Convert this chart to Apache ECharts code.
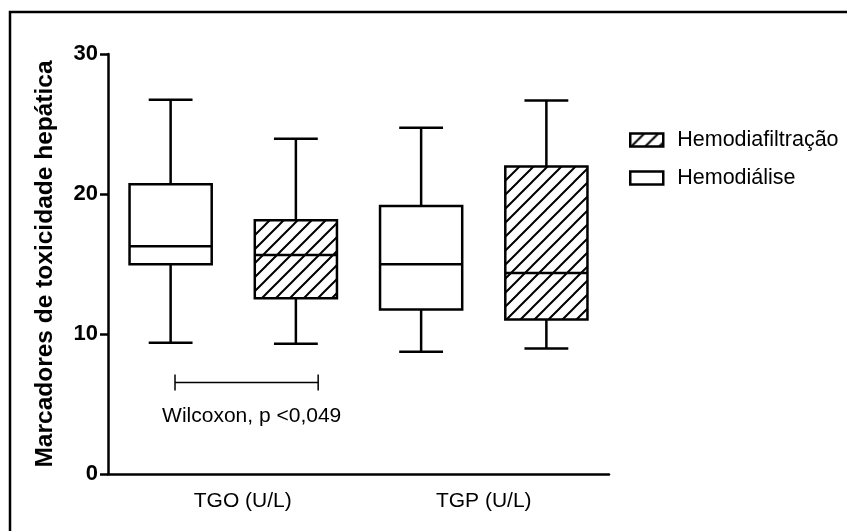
<!DOCTYPE html>
<html><head><meta charset="utf-8">
<script src="https://cdn.jsdelivr.net/npm/echarts@6/dist/echarts.min.js"></script>
<style>html,body{margin:0;padding:0;background:#fff}#c{width:847px;height:531px}</style>
</head><body><div id="c"></div>
<script>
const positions = ['TGO-HD', 'TGO-HDF', 'TGP-HD', 'TGP-HDF'];
const groupLabels = ['TGO (U/L)', 'TGP (U/L)'];
const yTicks = [0, 10, 20, 30];
// [position index, min, Q1, median, Q3, max]
const hemodialise = [[0, 9.37, 14.98, 16.27, 20.69, 26.73], [2, 8.73, 11.75, 14.98, 19.14, 24.73]];
const hemodiafiltracao = [[1, 9.30, 12.56, 15.65, 18.12, 23.95], [3, 8.97, 11.04, 14.36, 21.97, 26.68]];
// [start position, end position, y value]
const bracket = [[0.035, 1.178, 6.54]];
// [x position, y value]
const noteXY = [[0.647, 4.14]];
const noteText = ['Wilcoxon, p <0,049'];

const FF = "'Liberation Sans', Arial, sans-serif";

function makeHatch() {
  const s = 14, c = document.createElement('canvas');
  c.width = s; c.height = s;
  const g = c.getContext('2d');
  g.fillStyle = '#fff'; g.fillRect(0, 0, s, s);
  g.strokeStyle = '#000'; g.lineWidth = 2;
  g.beginPath();
  g.moveTo(-2, s + 2); g.lineTo(s + 2, -2);
  g.moveTo(-2, 2); g.lineTo(2, -2);
  g.moveTo(s - 2, s + 2); g.lineTo(s + 2, s - 2);
  g.stroke();
  return c;
}
const hatch = { image: makeHatch(), repeat: 'repeat' };

function boxRender(fill) {
  return function (params, api) {
    const cx = api.coord([api.value(0), 0])[0];
    const band = api.size([1, 0])[0];
    const bw = band * 0.656, cw = band * 0.35;
    const yMin = api.coord([0, api.value(1)])[1];
    const yQ1 = api.coord([0, api.value(2)])[1];
    const yMed = api.coord([0, api.value(3)])[1];
    const yQ3 = api.coord([0, api.value(4)])[1];
    const yMax = api.coord([0, api.value(5)])[1];
    const ls = { stroke: '#000', lineWidth: 2.5 };
    return {
      type: 'group', children: [
        { type: 'line', shape: { x1: cx, y1: yMax, x2: cx, y2: yQ3 }, style: ls },
        { type: 'line', shape: { x1: cx, y1: yQ1, x2: cx, y2: yMin }, style: ls },
        { type: 'line', shape: { x1: cx - cw / 2, y1: yMax, x2: cx + cw / 2, y2: yMax }, style: ls },
        { type: 'line', shape: { x1: cx - cw / 2, y1: yMin, x2: cx + cw / 2, y2: yMin }, style: ls },
        { type: 'rect', shape: { x: cx - bw / 2, y: yQ3, width: bw, height: yQ1 - yQ3 }, style: { fill: fill, stroke: '#000', lineWidth: 2.5 } },
        { type: 'line', shape: { x1: cx - bw / 2, y1: yMed, x2: cx + bw / 2, y2: yMed }, style: ls }
      ]
    };
  };
}

const chart = echarts.init(document.getElementById('c'), null, { renderer: 'canvas' });
chart.setOption({
  backgroundColor: '#fff',
  animation: false,
  graphic: [{
    type: 'rect', shape: { x: 10, y: 12, width: 900, height: 600 },
    style: { fill: 'none', stroke: '#000', lineWidth: 2.5 }, silent: true
  }],
  grid: { left: 108, top: 54, width: 501, height: 420, containLabel: false, outerBoundsMode: 'none' },
  legend: {
    orient: 'vertical', left: 624, top: 124, itemWidth: 33, itemHeight: 13, itemGap: 16,
    selectedMode: false,
    textStyle: { fontSize: 21.5, fontFamily: FF, color: '#000', padding: [0, 0, 0, 9] },
    data: [
      { name: 'Hemodiafiltração', icon: 'rect', itemStyle: { color: hatch, borderColor: '#000', borderWidth: 2.5 } },
      { name: 'Hemodiálise', icon: 'rect', itemStyle: { color: '#fff', borderColor: '#000', borderWidth: 2.5 } }
    ]
  },
  xAxis: [{
    type: 'category', data: positions, boundaryGap: true,
    axisLine: { lineStyle: { color: '#000', width: 2.5 } },
    axisTick: { alignWithLabel: true, length: 8, lineStyle: { color: '#000', width: 2.5 } },
    axisLabel: { show: false }, splitLine: { show: false }
  }, {
    type: 'category', data: groupLabels, position: 'bottom',
    axisLine: { show: false }, axisTick: { show: false }, splitLine: { show: false },
    axisLabel: {
      margin: 17, fontSize: 21, fontFamily: FF, color: '#000',
      formatter: function (v, i) { return i === 0 ? '{s|' + v + '}' : v; },
      rich: { s: { fontSize: 21, fontFamily: FF, color: '#000', padding: [0, 0, 0, 19] } }
    }
  }],
  yAxis: {
    type: 'value', min: yTicks[0], max: yTicks[yTicks.length - 1], interval: 10,
    name: 'Marcadores de toxicidade hepática', nameLocation: 'middle', nameGap: 50,
    nameTextStyle: { fontSize: 24.5, fontWeight: 'bold', fontFamily: FF, color: '#000' },
    axisLine: { show: true, lineStyle: { color: '#000', width: 2.5 } },
    axisTick: { show: true, length: 8, lineStyle: { color: '#000', width: 2.5 } },
    axisLabel: { margin: 10, fontSize: 22, fontWeight: 'bold', fontFamily: FF, color: '#000' },
    splitLine: { show: false }
  },
  series: [{
    name: 'Hemodiafiltração', type: 'custom', data: hemodiafiltracao,
    encode: { x: 0, y: [1, 2, 3, 4, 5] },
    itemStyle: { color: hatch, borderColor: '#000', borderWidth: 2.5 },
    renderItem: boxRender(hatch)
  }, {
    name: 'Hemodiálise', type: 'custom', data: hemodialise,
    encode: { x: 0, y: [1, 2, 3, 4, 5] },
    itemStyle: { color: '#fff', borderColor: '#000', borderWidth: 2.5 },
    renderItem: boxRender('#fff')
  }, {
    name: 'bracket', type: 'custom', data: bracket, silent: true,
    encode: { x: [0, 1], y: 2 },
    renderItem: function (params, api) {
      const band = api.size([1, 0])[0];
      const x0 = api.coord([0, 0])[0];
      const xa = x0 + api.value(0) * band, xb = x0 + api.value(1) * band;
      const y = api.coord([0, api.value(2)])[1];
      const ls = { stroke: '#000', lineWidth: 1.5 };
      return {
        type: 'group', children: [
          { type: 'line', shape: { x1: xa, y1: y, x2: xb, y2: y }, style: ls },
          { type: 'line', shape: { x1: xa, y1: y - 8, x2: xa, y2: y + 8 }, style: ls },
          { type: 'line', shape: { x1: xb, y1: y - 8, x2: xb, y2: y + 8 }, style: ls }
        ]
      };
    }
  }, {
    name: 'note', type: 'custom', data: noteXY, silent: true,
    encode: { x: 0, y: 1 },
    renderItem: function (params, api) {
      const band = api.size([1, 0])[0];
      const x = api.coord([0, 0])[0] + api.value(0) * band;
      const y = api.coord([0, api.value(1)])[1];
      return {
        type: 'text', x: x, y: y,
        style: { text: noteText[params.dataIndex], fontSize: 21, fontFamily: FF, fill: '#000', align: 'center', verticalAlign: 'middle' }
      };
    }
  }]
});
</script>
</body></html>
